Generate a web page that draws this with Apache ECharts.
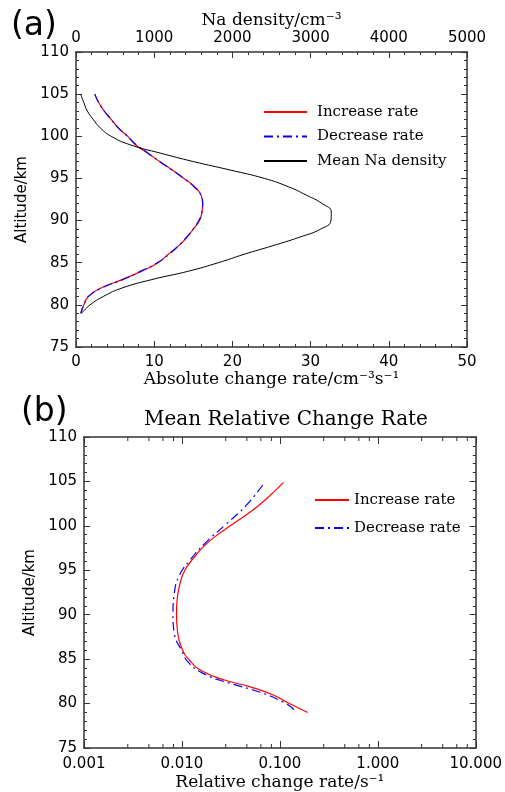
<!DOCTYPE html>
<html><head><meta charset="utf-8">
<script src="https://cdn.jsdelivr.net/npm/echarts@6/dist/echarts.min.js"></script>
<style>html,body{margin:0;padding:0;background:#fff}#c{width:505px;height:792px}</style>
</head><body><div id="c"></div>
<script>
// ---- Panel (a) data ----
const altA = [105,104,103,102,101,100,99,98,97,96,95,94,93,92,91,90,89,88,87,86,85,84,83,82,81,80,79];
const incAbs = [2.4,2.9,3.6,4.5,5.4,6.6,7.6,9.2,10.7,12.3,13.8,15.2,16.0,16.2,16.1,15.8,15.0,14.2,13.1,11.8,10.5,8.4,5.9,3.2,1.6,1.0,0.62];
const decAbs = [2.4,2.9,3.6,4.5,5.4,6.6,7.7,9.2,10.7,12.3,13.8,15.1,16.0,16.2,16.1,15.7,15.0,14.1,13.1,11.9,10.4,8.3,6.0,3.3,1.6,1.0,0.62];
const naDensity = [60,100,145,220,310,450,690,1080,1500,1970,2410,2720,2950,3150,3265,3260,3130,2850,2510,2150,1820,1440,970,590,350,180,70];
// ---- Panel (b) data ----
const altIncRel = [104.9,103,101.5,100.2,98.9,97.6,96.3,95.0,93.4,91.5,90.0,88.2,86.3,84.85,83.6,82.6,81.9,81.0,80.0,79.0];
const incRel = [0.109,0.0722,0.049,0.0331,0.0224,0.0164,0.0130,0.0107,0.0095,0.0089,0.0088,0.0090,0.0099,0.0120,0.0164,0.0283,0.049,0.0845,0.125,0.192];
const altDecRel = [104.6,102.3,100.2,98.2,96.1,94.5,92.6,90.0,87.8,86.0,84.7,83.4,82.3,81.3,80.2,79.5,79.0];
const decRel = [0.0668,0.0453,0.0283,0.0178,0.0120,0.0095,0.0084,0.0081,0.0084,0.0099,0.0115,0.0164,0.0306,0.0618,0.107,0.134,0.144];
// ---- tick definitions ----
const minorLogTicks = [0.0028,0.0046,0.0064,0.0082,0.028,0.046,0.064,0.082,0.28,0.46,0.64,0.82,2.8,4.6,6.4,8.2];
const legendA = ['Increase rate','Decrease rate','Mean Na density'];
const legendB = ['Increase rate','Decrease rate'];

const pair = (xs, ys) => xs.map((x, i) => [x, ys[i]]);
const AX = '#333';
const tickFont = {fontFamily:'DejaVu Sans', fontSize:15, color:'#000'};
const serif = 'DejaVu Serif';
const dashDot = [9,4,2,4];

function yAx(grid, pos) {
  return {
    type:'value', gridIndex:grid, position:pos, min:75, max:110, interval:5,
    axisLine:{show:true, onZero:false, lineStyle:{color:AX, width:1.5}},
    axisTick:{show:true, inside:true, length:6, lineStyle:{color:AX}},
    minorTick:{show:true, splitNumber:5, length:3, lineStyle:{color:AX}},
    splitLine:{show:false},
    axisLabel:pos === 'left' ? Object.assign({margin:7}, tickFont) : {show:false},
    name:pos === 'left' ? 'Altitude/km' : '', nameLocation:'middle', nameGap:44,
    nameTextStyle:{fontFamily:'DejaVu Sans', fontSize:15, color:'#000'}
  };
}

const option = {
  animation:false,
  backgroundColor:'#fff',
  title:[
    {text:'(a)', left:6, top:5, textStyle:{fontFamily:'DejaVu Sans', fontSize:33, fontWeight:'normal', color:'#000'}},
    {text:'(b)', left:16, top:391, textStyle:{fontFamily:'DejaVu Sans', fontSize:33, fontWeight:'normal', color:'#000'}},
    {text:'Mean Relative Change Rate', left:281, textAlign:'center', top:405, textStyle:{fontFamily:serif, fontSize:20, fontWeight:'normal', color:'#000'}}
  ],
  grid:[
    {left:76, top:52, width:391, height:295},
    {left:84, top:437, width:393, height:315}
  ],
  legend:[
    {data:legendA, orient:'vertical', left:258, top:99, itemWidth:43, itemHeight:16, itemGap:8.5,
     itemStyle:{opacity:0},
     textStyle:{fontFamily:serif, fontSize:15, color:'#000', lineHeight:16, padding:[0,0,0,5]}},
    {data:legendB, orient:'vertical', left:309, top:487, itemWidth:34, itemHeight:16, itemGap:12,
     itemStyle:{opacity:0},
     textStyle:{fontFamily:serif, fontSize:15, color:'#000', lineHeight:16}}
  ],
  xAxis:[
    {type:'value', gridIndex:0, position:'bottom', min:0, max:50, interval:10,
     axisLine:{show:true, onZero:false, lineStyle:{color:AX, width:1.5}},
     axisTick:{show:true, inside:true, length:6, lineStyle:{color:AX}},
     minorTick:{show:true, splitNumber:5, length:3, lineStyle:{color:AX}},
     splitLine:{show:false}, axisLabel:Object.assign({margin:8}, tickFont),
     name:'Absolute change rate/cm\u207B\u00B3s\u207B\u00B9', nameLocation:'middle', nameGap:24,
     nameTextStyle:{fontFamily:serif, fontSize:17, color:'#000'}},
    {type:'value', gridIndex:0, position:'top', min:0, max:5000, interval:1000,
     axisLine:{show:true, onZero:false, lineStyle:{color:AX, width:1.5}},
     axisTick:{show:true, inside:true, length:6, lineStyle:{color:AX}},
     minorTick:{show:true, splitNumber:5, length:3, lineStyle:{color:AX}},
     splitLine:{show:false}, axisLabel:Object.assign({margin:6, formatter:v => String(v)}, tickFont),
     name:'Na density/cm\u207B\u00B3', nameLocation:'middle', nameGap:23,
     nameTextStyle:{fontFamily:serif, fontSize:17, color:'#000'}},
    {type:'log', gridIndex:1, position:'bottom', min:0.001, max:10, logBase:10, splitNumber:4,
     axisLine:{show:true, onZero:false, lineStyle:{color:AX, width:1.5}},
     axisTick:{show:true, inside:true, length:7, lineStyle:{color:AX}},
     splitLine:{show:false},
     axisLabel:Object.assign({margin:9, formatter:v => Number(v).toFixed(3)}, tickFont),
     name:'Relative change rate/s\u207B\u00B9', nameLocation:'middle', nameGap:26,
     nameTextStyle:{fontFamily:serif, fontSize:17, color:'#000'}},
    {type:'log', gridIndex:1, position:'top', min:0.001, max:10, logBase:10, splitNumber:4,
     axisLine:{show:true, onZero:false, lineStyle:{color:AX, width:1.5}},
     axisTick:{show:true, inside:true, length:7, lineStyle:{color:AX}},
     splitLine:{show:false}, axisLabel:{show:false}}
  ],
  yAxis:[yAx(0,'left'), yAx(0,'right'), yAx(1,'left'), yAx(1,'right')],
  series:[
    {name:'Increase rate', type:'line', xAxisIndex:0, yAxisIndex:0, data:pair(incAbs, altA),
     symbol:'none', smooth:0.5, lineStyle:{color:'#ff0000', width:1.2}, itemStyle:{color:'#ff0000'}},
    {name:'Decrease rate', type:'line', xAxisIndex:0, yAxisIndex:0, data:pair(decAbs, altA),
     symbol:'none', smooth:0.5, lineStyle:{color:'#0000ff', width:1.2, type:dashDot}, itemStyle:{color:'#0000ff'}},
    {name:'Mean Na density', type:'line', xAxisIndex:1, yAxisIndex:0, data:pair(naDensity, altA),
     symbol:'none', smooth:0.5, lineStyle:{color:'#000', width:1}, itemStyle:{color:'#000'}},
    {name:'Increase rate', type:'line', xAxisIndex:2, yAxisIndex:2, data:pair(incRel, altIncRel),
     symbol:'none', smooth:0.5, lineStyle:{color:'#ff0000', width:1.2}, itemStyle:{color:'#ff0000'}},
    {name:'Decrease rate', type:'line', xAxisIndex:2, yAxisIndex:2, data:pair(decRel, altDecRel),
     symbol:'none', smooth:0.5, lineStyle:{color:'#0000ff', width:1.2, type:dashDot}, itemStyle:{color:'#0000ff'}},
    {name:'logMinorTicks', type:'custom', xAxisIndex:2, yAxisIndex:2, silent:true, clip:false,
     data:minorLogTicks.map(v => [v]),
     encode:{x:0},
     renderItem:function(params, api){
       const b = api.coord([api.value(0), 75]);
       const t = api.coord([api.value(0), 110]);
       const st = {stroke:AX, lineWidth:1};
       return {type:'group', children:[
         {type:'line', shape:{x1:b[0], y1:b[1], x2:b[0], y2:b[1]-4}, style:st},
         {type:'line', shape:{x1:t[0], y1:t[1], x2:t[0], y2:t[1]+4}, style:st}
       ]};
     }}
  ]
};
const chart = echarts.init(document.getElementById('c'), null, {renderer:'canvas'});
chart.setOption(option);
</script></body></html>
